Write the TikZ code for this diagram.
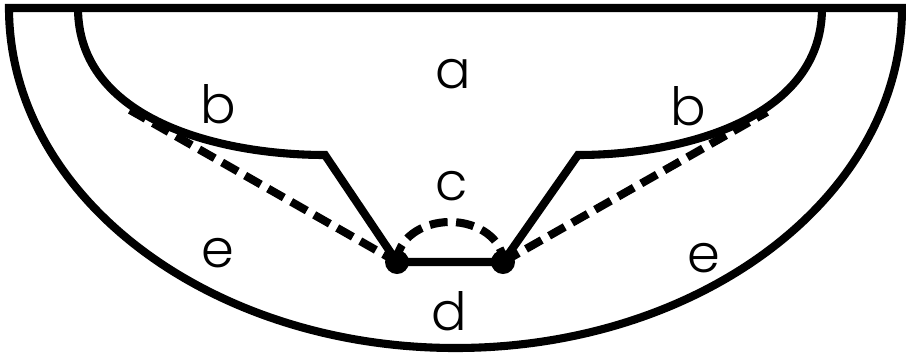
\documentclass[tikz,border=0pt]{standalone}
\usepackage{fontspec}
\setmainfont{Poppins}[UprightFont=* Light]
\usepackage{tikz}
\usetikzlibrary{positioning}

\begin{document}
\begin{tikzpicture}[x=0.02cm,y=-0.02cm,
    thickline/.style={line width=4.6pt,line join=miter},
    dashline/.style={line width=4.6pt,dash pattern=on 0.36cm off 0.17cm},
    lbl/.style={font=\fontsize{30}{36}\selectfont,anchor=base,inner sep=0pt}]
    \useasboundingbox (0,0) rectangle (906,359);
    \coordinate (lCorner) at (325,155);
    \coordinate (rCorner) at (578,155);
    \coordinate (lDot) at (397,262);
    \coordinate (rDot) at (503,262);
    \coordinate (lTan) at (130,110);
    \coordinate (rTan) at (767,112);
    % outer bowl
    \draw[thickline] (9,8) arc[start angle=180,end angle=0,x radius=446.5,y radius=340] -- cycle;
    % inner bowl with the notch
    \draw[thickline] (78,8) .. controls (78,120) and (220,155) .. (lCorner) -- (lDot) -- (rDot) -- (rCorner) .. controls (680,155) and (822,120) .. (822,8);
    % dashed lines
    \draw[dashline] (lTan) -- (lDot);
    \draw[dashline] (rDot) -- (rTan);
    \draw[dashline] (lDot) arc[start angle=180,end angle=360,x radius=53,y radius=40];
    \fill (lDot) circle[radius=12];
    \fill (rDot) circle[radius=12];
    \node[lbl] (labA) at (453,88) {a};
    \node[lbl] (labBl) at (218,123) {b};
    \node[lbl] (labBr) at (688,125) {b};
    \node[lbl] (labC) at (452,200) {c};
    \node[lbl] (labEl) at (218,267) {e};
    \node[lbl] (labEr) at (704,272) {e};
    \node[lbl] (labD) at (449,330) {d};
\end{tikzpicture}
\end{document}
